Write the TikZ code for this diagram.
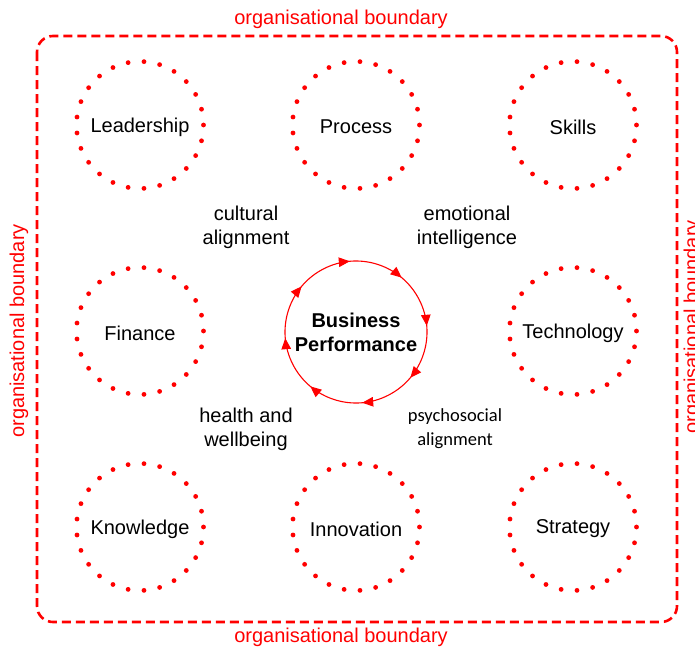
\documentclass[tikz,border=0pt]{standalone}
\usepackage{fontspec}
\setmainfont{Liberation Sans}
\newfontfamily\calibri{Carlito}
\usetikzlibrary{arrows.meta}
\usetikzlibrary{decorations.markings}

\tikzset{
  area/.style={red, line width=4.8pt, line cap=round, dash pattern=on 0pt off 15.96pt},
  areatext/.style={font=\fontsize{20}{24}\selectfont, align=center},
  linktext/.style={font=\fontsize{20}{24}\selectfont, align=center},
  bound/.style={red, line width=2.6pt, dash pattern=on 9pt off 5pt, rounded corners=16pt},
  boundtext/.style={red, font=\fontsize{20}{24}\selectfont},
  cycle/.style={red, line width=1.1pt,
    postaction={decorate, decoration={markings,
      mark=between positions 0.0625 and 1 step 0.125 with {\arrow{Triangle[length=11pt,width=9.5pt]}}}}}
}

\begin{document}
\begin{tikzpicture}[x=1pt,y=1pt]
            \useasboundingbox (0,0) rectangle (695,-648);

            % the organisation
            \draw[bound] (37,-36) rectangle (677,-622);
            \node[boundtext] (btop) at (341,-19) {organisational boundary};
            \node[boundtext] (bbot) at (341,-637) {organisational boundary};
            \node[boundtext, rotate=90] (bleft) at (19,-331) {organisational boundary};
            \node[boundtext, rotate=90] (bright) at (693,-327) {organisational boundary};

            % the eight areas
            \node[areatext] (lead) at (140,-127) {Leadership};
            \node[areatext] (proc) at (356,-127) {Process};
            \node[areatext] (skil) at (573,-127) {Skills};
            \node[areatext] (fin) at (140,-333) {Finance};
            \node[areatext] (tech) at (573,-333) {Technology};
            \node[areatext] (know) at (140,-529) {Knowledge};
            \node[areatext] (innov) at (356,-529) {Innovation};
            \node[areatext] (strat) at (573,-529) {Strategy};
            \draw[area] (140,-125) circle[radius=63.5pt];
            \draw[area] (356,-125) circle[radius=63.5pt];
            \draw[area] (573,-125) circle[radius=63.5pt];
            \draw[area] (140,-331) circle[radius=63.5pt];
            \draw[area] (573,-331) circle[radius=63.5pt];
            \draw[area] (140,-527) circle[radius=63.5pt];
            \draw[area] (356,-527) circle[radius=63.5pt];
            \draw[area] (573,-527) circle[radius=63.5pt];

            % centre
            \node[areatext, font=\fontsize{20}{24}\selectfont\bfseries] (perf) at (356,-332) {Business\\Performance};
            \draw[cycle] (356,-332) ++(117.5:71pt) arc[start angle=117.5, delta angle=-360, radius=71pt];

            % alignments
            \node[linktext] (cult) at (246,-227) {cultural\\alignment};
            \node[linktext] (emot) at (467,-227) {emotional\\intelligence};
            \node[linktext] (heal) at (246,-429) {health and\\wellbeing};
            \node[linktext, font=\calibri\fontsize{18.5}{24}\selectfont] (psych) at (455,-429) {psychosocial\\alignment};
        \end{tikzpicture}
\end{document}
